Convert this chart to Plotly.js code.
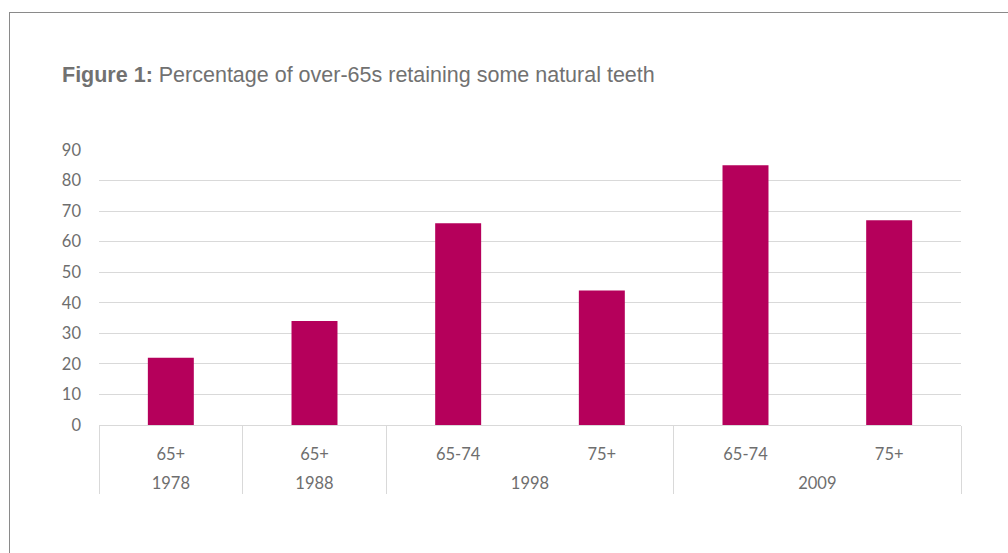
<!DOCTYPE html>
<html>
<head>
<meta charset="utf-8">
<script src="https://cdn.plot.ly/plotly-3.0.1.min.js"></script>
<style>
  html, body { margin: 0; padding: 0; background: #fff; }
  #wrap { position: relative; width: 1008px; height: 553px; overflow: hidden; }
  #frame { position: absolute; left: 9px; top: 12px; width: 1100px; height: 700px;
           border-left: 1px solid #8a8a8a; border-top: 1px solid #8a8a8a; pointer-events: none; }
  #chart { position: absolute; left: 0; top: 0; width: 1008px; height: 553px; }
</style>
</head>
<body>
<div id="wrap">
  <div id="chart"></div>
  <div id="frame"></div>
</div>
<script>
const years = ["1978", "1988", "1998", "1998", "2009", "2009"];
const ageGroups = ["65+", "65+", "65-74", "75+", "65-74", "75+"];
const percentages = [22, 34, 66, 44, 85, 67];
const yTicks = [0, 10, 20, 30, 40, 50, 60, 70, 80, 90];

// inner labels get an empty second line so the year row sits lower, as in the reference
const innerLabels = ageGroups.map(a => a + "<br>&nbsp;");

const trace = {
  type: "bar",
  x: [years, innerLabels],
  y: percentages,
  marker: { color: "#b5005b" },
  hoverinfo: "y"
};

const tickFont = { family: "Lato, Carlito, sans-serif", size: 16.5, color: "#6e6e6e" };

const layout = {
  width: 1008,
  height: 553,
  margin: { l: 99, r: 47, t: 150, b: 128 },
  paper_bgcolor: "rgba(0,0,0,0)",
  plot_bgcolor: "rgba(0,0,0,0)",
  bargap: 0.68,
  showlegend: false,
  title: {
    text: "<b>Figure 1:</b> Percentage of over-65s retaining some natural teeth",
    font: { family: "Liberation Sans, Arial, sans-serif", size: 21.5, color: "#717171" },
    x: 62 / 1008, xref: "container", xanchor: "left",
    y: 1 - 74 / 553, yref: "container", yanchor: "middle"
  },
  xaxis: {
    type: "multicategory",
    showline: true,
    linecolor: "#d9d9d9",
    linewidth: 1,
    showgrid: false,
    showdividers: true,
    dividercolor: "#d9d9d9",
    dividerwidth: 1,
    ticks: "",
    ticklabelstandoff: 14,
    tickfont: tickFont
  },
  yaxis: {
    range: [0, 90],
    tickvals: yTicks,
    ticktext: yTicks.map(String),
    showgrid: true,
    gridcolor: "#d9d9d9",
    gridwidth: 1,
    zeroline: false,
    showline: false,
    ticks: "",
    ticklabelstandoff: 17,
    tickfont: tickFont
  }
};

Plotly.newPlot("chart", [trace], layout, { displayModeBar: false, staticPlot: true });
</script>
</body>
</html>
